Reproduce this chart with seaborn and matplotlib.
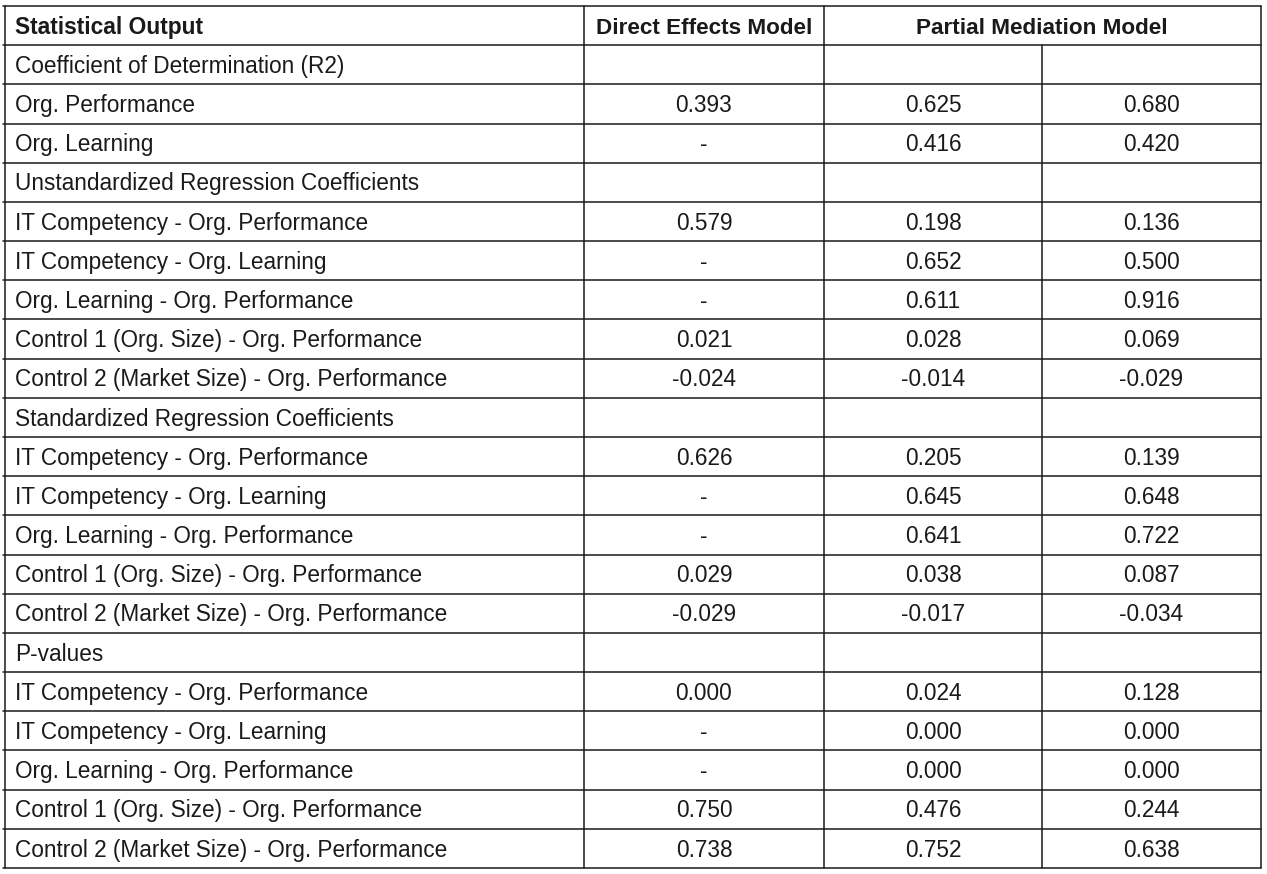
import os
import matplotlib.pyplot as plt
import matplotlib.font_manager as fm
import seaborn as sns

# Table contents
header = ["Statistical Output", "Direct Effects Model", "Partial Mediation Model"]
row_labels = [
    "Coefficient of Determination (R2)",
    "Org. Performance",
    "Org. Learning",
    "Unstandardized Regression Coefficients",
    "IT Competency - Org. Performance",
    "IT Competency - Org. Learning",
    "Org. Learning - Org. Performance",
    "Control 1 (Org. Size) - Org. Performance",
    "Control 2 (Market Size) - Org. Performance",
    "Standardized Regression Coefficients",
    "IT Competency - Org. Performance",
    "IT Competency - Org. Learning",
    "Org. Learning - Org. Performance",
    "Control 1 (Org. Size) - Org. Performance",
    "Control 2 (Market Size) - Org. Performance",
    "P-values",
    "IT Competency - Org. Performance",
    "IT Competency - Org. Learning",
    "Org. Learning - Org. Performance",
    "Control 1 (Org. Size) - Org. Performance",
    "Control 2 (Market Size) - Org. Performance",
]
direct = ["", "0.393", "-", "", "0.579", "-", "-", "0.021", "-0.024",
          "", "0.626", "-", "-", "0.029", "-0.029",
          "", "0.000", "-", "-", "0.750", "0.738"]
partial_1 = ["", "0.625", "0.416", "", "0.198", "0.652", "0.611", "0.028", "-0.014",
             "", "0.205", "0.645", "0.641", "0.038", "-0.017",
             "", "0.024", "0.000", "0.000", "0.476", "0.752"]
partial_2 = ["", "0.680", "0.420", "", "0.136", "0.500", "0.916", "0.069", "-0.029",
             "", "0.139", "0.648", "0.722", "0.087", "-0.034",
             "", "0.128", "0.000", "0.000", "0.244", "0.638"]

sns.set_theme(style="white")
plt.rcParams['font.family'] = ['Liberation Sans', 'DejaVu Sans']


def font_file(basename, fallback_weight):
    # pick an exact font file so the regular face is not swapped for the narrow one
    for f in fm.fontManager.ttflist:
        if os.path.basename(f.fname) == basename:
            return fm.FontProperties(fname=f.fname)
    return fm.FontProperties(family='Liberation Sans', weight=fallback_weight)


regular = font_file('LiberationSans-Regular.ttf', 'normal')
bold = font_file('LiberationSans-Bold.ttf', 'bold')
narrow_bold = font_file('LiberationSansNarrow-Bold.ttf', 'bold')

W, H = 1267, 874
fig = plt.figure(figsize=(W / 100, H / 100), dpi=100)
ax = fig.add_axes([0, 0, 1, 1])
ax.set_xlim(0, W)
ax.set_ylim(H, 0)
ax.axis('off')
renderer = fig.canvas.get_renderer()


def fit_size(s, target_px, prop):
    # font size (pt) that makes the string about target_px wide
    p = prop.copy()
    p.set_size(20)
    t = ax.text(0, 0, s, fontproperties=p)
    w = t.get_window_extent(renderer=renderer).width
    t.remove()
    return 20 * target_px / w


# layout in pixel units
left, right = 4.5, 1260.5
top, bottom = 6, 868
col_x = [584, 824, 1042]
n_rows = len(row_labels) + 1
rh = (bottom - top) / n_rows
line_kw = dict(color='#1a1a1a', linewidth=1.1)
txt_color = '#1a1a1a'
fs = fit_size("Control 2 (Market Size) - Org. Performance", 433, regular)


def put(x, yc, s, size, ha, prop):
    # baseline placed so that capital letters are centred on yc
    p = prop.copy()
    p.set_size(size)
    base = yc + 0.36 * size * 100 / 72
    ax.text(x, base, s, ha=ha, va='baseline', fontproperties=p, color=txt_color)


# horizontal lines
for i in range(n_rows + 1):
    ax.plot([left - 1.5, right], [top + i * rh] * 2, **line_kw)
# vertical lines
ax.plot([left, left], [top, bottom], **line_kw)
ax.plot([right, right], [top, bottom], **line_kw)
ax.plot([col_x[0]] * 2, [top, bottom], **line_kw)
ax.plot([col_x[1]] * 2, [top, bottom], **line_kw)
ax.plot([col_x[2]] * 2, [top + rh, bottom], **line_kw)

# header
yc = top + rh / 2
put(15, yc, header[0], fit_size(header[0], 188, bold), 'left', bold)
hs = fit_size(header[2], 251, narrow_bold)
put((col_x[0] + col_x[1]) / 2, yc, header[1], hs, 'center', narrow_bold)
put((col_x[1] + right) / 2, yc, header[2], hs, 'center', narrow_bold)

centers = [(col_x[0] + col_x[1]) / 2, (col_x[1] + col_x[2]) / 2, (col_x[2] + right) / 2]
for i, lab in enumerate(row_labels):
    yc = top + (i + 1.5) * rh
    put(15, yc, lab, fs, 'left', regular)
    for cx, vals in zip(centers, [direct, partial_1, partial_2]):
        if vals[i]:
            put(cx, yc, vals[i], fs, 'center', regular)

fig.savefig('out.png', dpi=100, facecolor='white')
